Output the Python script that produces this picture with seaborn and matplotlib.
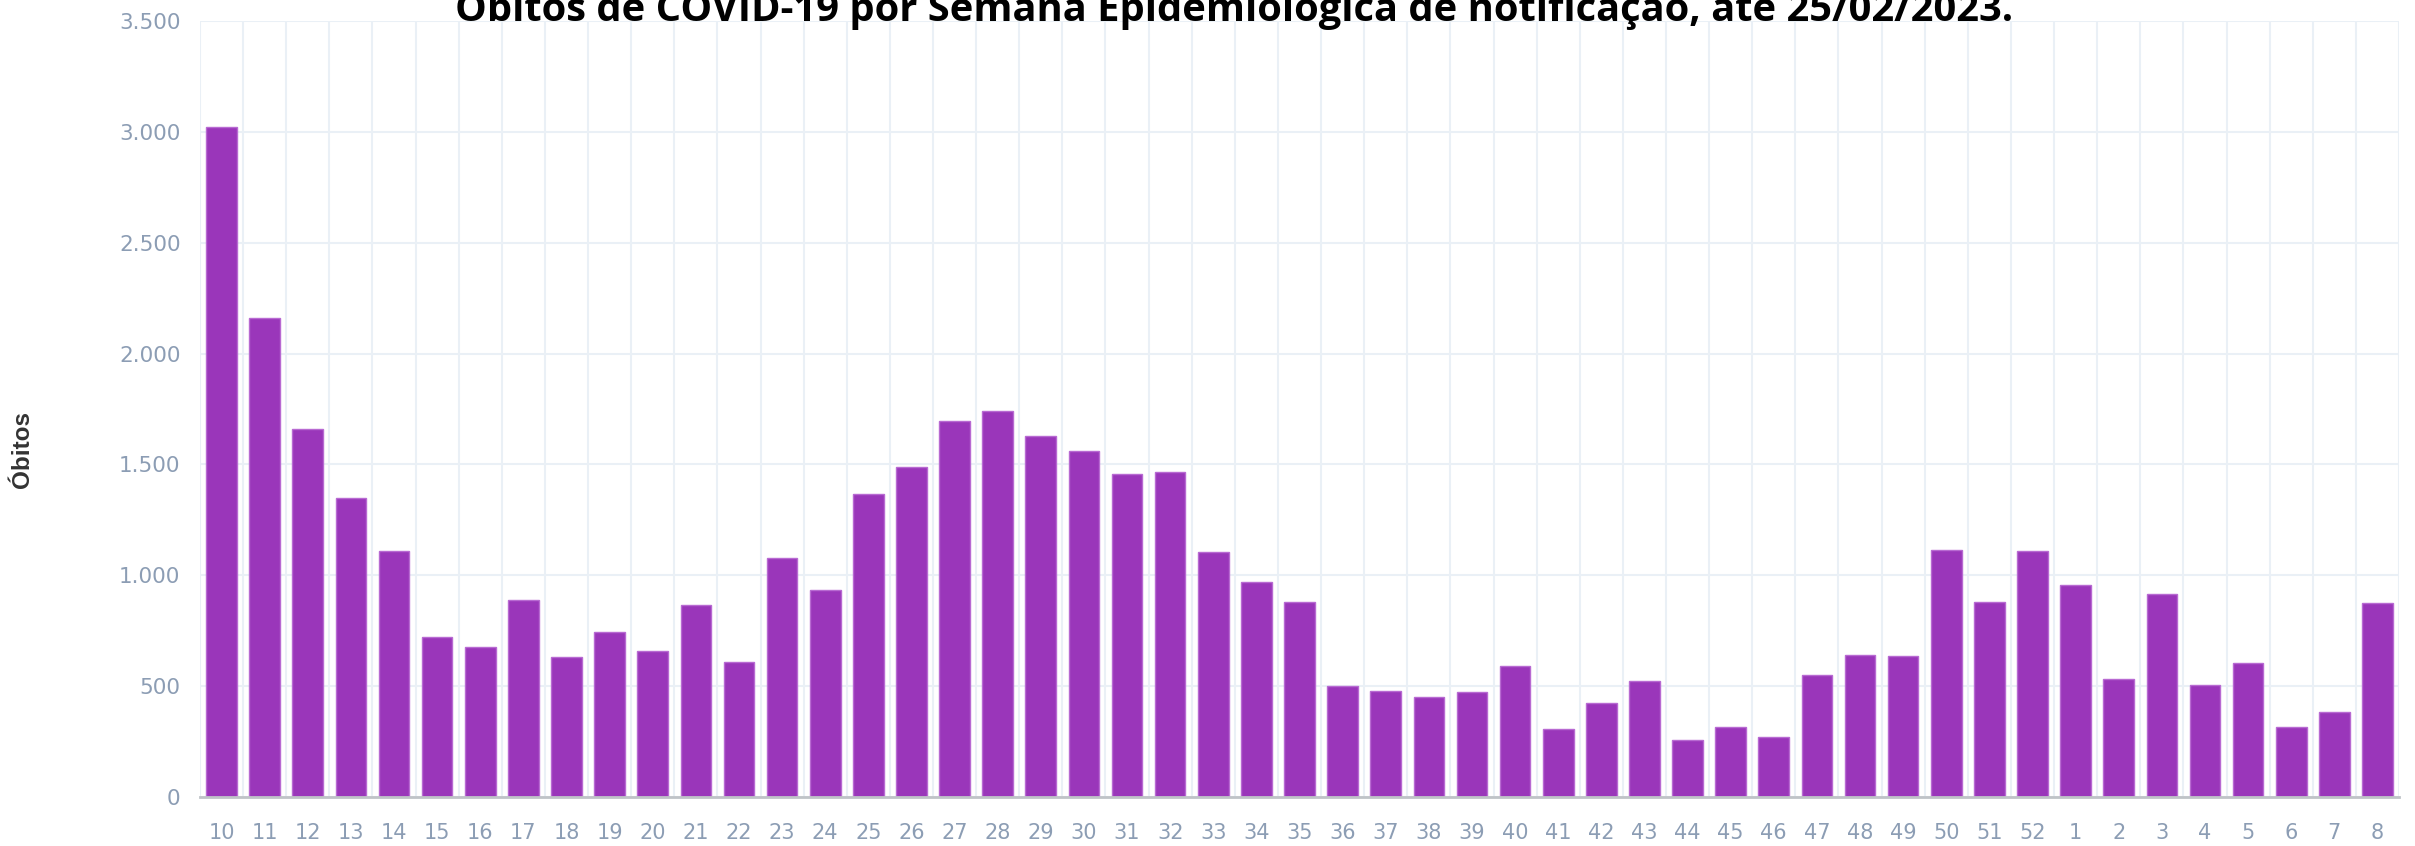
#!/usr/bin/env python
"""Óbitos de COVID-19 por semana epidemiológica de notificação."""
import matplotlib
matplotlib.use("Agg")
import matplotlib.pyplot as plt
import numpy as np
import pandas as pd
import seaborn as sns

SEMANAS = [str(s) for s in range(10, 53)] + [str(s) for s in range(1, 9)]
OBITOS = [
    3020, 2160, 1660, 1350, 1110, 720, 675, 890, 630, 745,
    660, 865, 610, 1080, 935, 1365, 1490, 1695, 1740, 1630,
    1560, 1455, 1465, 1105, 970, 880, 500, 480, 450, 475,
    590, 305, 425, 525, 255, 315, 270, 550, 640, 638,
    1115, 880, 1110, 955, 530, 915, 505, 605, 315, 385,
    875,
]
Y_TICKS = [0, 500, 1000, 1500, 2000, 2500, 3000, 3500]
TITLE = "Óbitos de COVID-19 por Semana Epidemiológica de notificação, até 25/02/2023."

BAR_COLOR = "#9A36BA"
TICK_COLOR = "#8C9DB4"
GRID_COLOR = "#EAF0F6"

df = pd.DataFrame({"semana": SEMANAS, "obitos": OBITOS})

sns.set_style("white")
plt.rcParams["font.family"] = ["DejaVu Sans"]

fig = plt.figure(figsize=(24.15, 8.46), dpi=100)
ax = fig.add_axes([200 / 2415, 49 / 846, 2199 / 2415, 776 / 846])

sns.barplot(data=df, x="semana", y="obitos", order=SEMANAS, color=BAR_COLOR,
            saturation=1, width=0.71, edgecolor="#B86AD2", linewidth=1, ax=ax)

ax.set_xlim(-0.5, len(SEMANAS) - 0.5)
ax.set_ylim(0, 3500)
ax.set_yticks(Y_TICKS)
ax.set_yticklabels([f"{v:,}".replace(",", ".") for v in Y_TICKS])

# category boundaries as minor ticks / grid
ax.set_xticks(np.arange(-0.5, len(SEMANAS), 1), minor=True)
ax.grid(which="minor", axis="x", color=GRID_COLOR, linewidth=1.5)
ax.grid(which="major", axis="y", color=GRID_COLOR, linewidth=1.5)
ax.set_axisbelow(True)

ax.tick_params(axis="x", which="major", length=0, pad=19, labelsize=15,
               labelcolor=TICK_COLOR)
ax.tick_params(axis="x", which="minor", length=15, width=1.5, color=GRID_COLOR)
ax.tick_params(axis="y", which="major", length=12, width=1.5, color=GRID_COLOR,
               pad=2, labelsize=15.5, labelcolor=TICK_COLOR)

# darker tick at the origin
ax.xaxis.get_minor_ticks()[0].tick1line.set_color("#BFC3C7")
ax.yaxis.get_major_ticks()[0].tick1line.set_color("#BFC3C7")

for side in ["left", "top", "right"]:
    ax.spines[side].set_visible(False)
ax.spines["bottom"].set_color("#BFC3C7")
ax.spines["bottom"].set_linewidth(2)

ax.set_xlabel("")
ax.set_ylabel("")
fig.text(23 / 2415, 1 - 449 / 846, "Óbitos", rotation=90, ha="center", va="center",
         fontsize=17.5, fontweight="bold", color="#333333",
         family=["Liberation Sans", "DejaVu Sans"])

fig.text(0.511, 1 - 21 / 846, TITLE, ha="center", va="baseline",
         fontsize=28.7, fontweight="bold", color="black",
         family=["Open Sans", "DejaVu Sans"])

fig.savefig("out.png", dpi=100, facecolor="white")
